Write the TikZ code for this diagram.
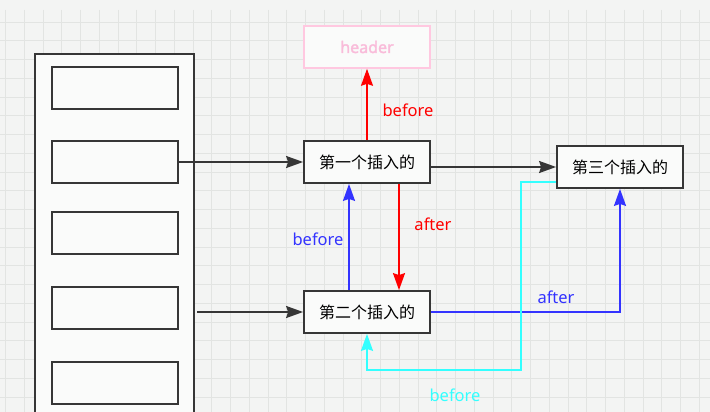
\documentclass[tikz,border=0pt]{standalone}
\usepackage{fontspec}
\setmainfont{Noto Sans}
\newfontfamily\cjk{Noto Sans CJK SC}
\newfontfamily\headfont{Noto Sans}[FakeBold=2]
\usetikzlibrary{arrows.meta}
\definecolor{ink}{HTML}{363636}
\definecolor{bluearr}{HTML}{3333FF}
\definecolor{cyanarr}{HTML}{33FFFF}
\definecolor{pinkbox}{HTML}{FFC8E0}
\definecolor{pinktext}{HTML}{F9BCDA}
\definecolor{paper}{HTML}{F3F4F3}
\definecolor{gridline}{HTML}{E2E4E2}
\begin{document}
\begin{tikzpicture}[x=1pt,y=-1pt,
    box/.style={draw=ink, line width=1.8pt, fill=white!60!paper, minimum width=126pt, minimum height=42pt, inner sep=0pt},
    elem/.style={box, font=\cjk\fontsize{16}{16}\selectfont},
    link/.style={line width=1.7pt, -{Stealth[length=17pt, width=12pt, inset=2pt]}},
    lbl/.style={font=\fontsize{16.5}{16.5}\selectfont, inner sep=0pt}]
    \useasboundingbox (0,0) rectangle (710,412);
    \clip (0,0) rectangle (710,412);
    % background grid
    \fill[paper] (0,0) rectangle (710,412);
    \foreach \i in {0,...,37}
        \draw[gridline, line width=0.8pt] (5.5+18.75*\i,10) -- (5.5+18.75*\i,412);
    \foreach \k in {1,...,21}
        \draw[gridline, line width=0.8pt] (0,3.25+18.75*\k) -- (710,3.25+18.75*\k);

    % left table with slots
    \node[box, minimum width=159pt, minimum height=380pt] (tbl) at (114.5,244) {};
    \foreach \y [count=\n] in {88,162,233,308,383}
        \node[box] (s\n) at (115,\y) {};

    % inserted nodes
    \node[draw=pinkbox, line width=1.6pt, fill=white!60!paper, minimum width=126pt, minimum height=42pt,
        text=pinktext, font=\headfont\fontsize{16}{16}\selectfont] (head) at (367,47) {header};
    \node[elem] (n1) at (367,162) {第一个插入的};
    \node[elem] (n2) at (367,312) {第二个插入的};
    \node[elem] (n3) at (620,167) {第三个插入的};

    \coordinate (p2) at (197,312);
    \coordinate (c1) at (521,370);
    \draw[link, ink] (s2.east) -- (n1.west);
    \draw[link, ink] (p2) -- (n2.west);
    \draw[link, ink] (n1.east |- n3.west) -- (n3.west);

    \draw[link, red] (n1.north) -- (head.south);
    \draw[link, red] ([xshift=32pt]n1.south) -- ([xshift=32pt]n2.north);
    \draw[link, bluearr] ([xshift=-18pt]n2.north) -- ([xshift=-18pt]n1.south);
    \draw[link, bluearr] (n2.east) -| (n3.south);
    \draw[link, cyanarr] ([yshift=-15pt]n3.west) -| (c1) -| (n2.south);

    \node[lbl, red] at (408,110) {before};
    \node[lbl, red] at (433,224) {after};
    \node[lbl, bluearr] at (318,239) {before};
    \node[lbl, bluearr] at (556,297) {after};
    \node[lbl, cyanarr] at (455,395) {before};
\end{tikzpicture}
\end{document}
